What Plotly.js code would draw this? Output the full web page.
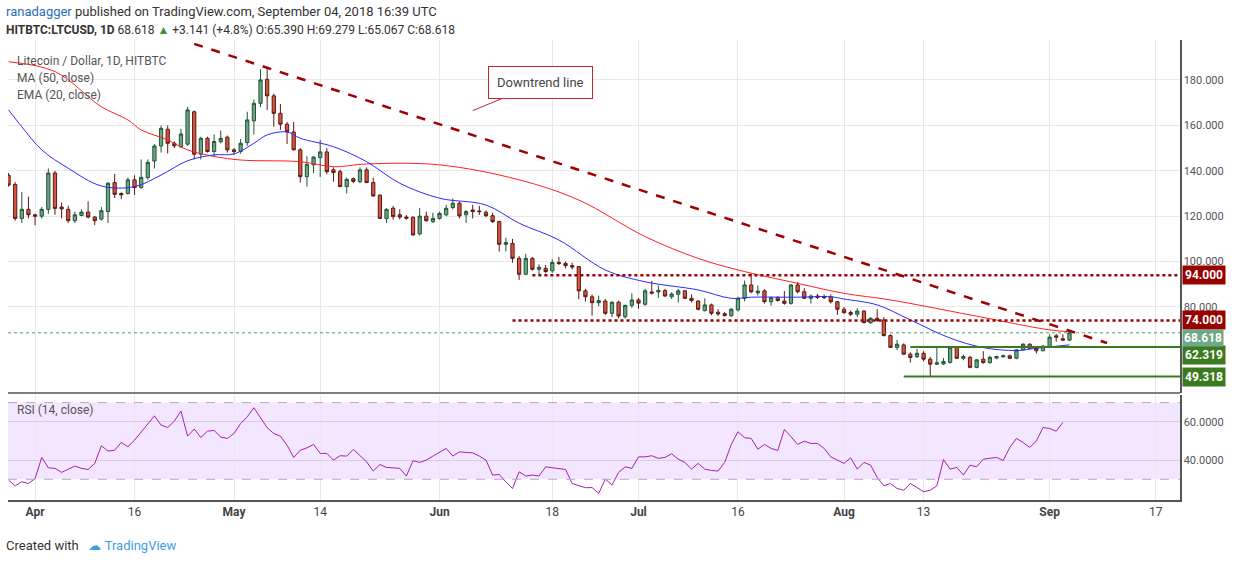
<!DOCTYPE html>
<html>
<head>
<meta charset="utf-8">
<script src="https://cdn.plot.ly/plotly-3.0.1.min.js"></script>
<style>
  body { margin: 0; background: #fff; }
  #chart { width: 1240px; height: 562px; }
</style>
</head>
<body>
<div id="chart"></div>
<script>
// daily candles, 2018-03-28 .. 2018-09-04
const startDate = '2018-03-28';
const open = [138,134,119,123, 120.6,120,123,139,124,123,118,120.3,121.8,119.6,118.7,122,134.8,130,130,136,132.6,137,144.3,150.9,158.3,152.1,150.6,151.7,166,147.3,154.3,148.5,152.8,154.8,
  149.2,148.5,152.4,162,169.7,180.3,173,165.3,160.5,157.1,149.2,137.4,142.6,145.8,148.3,140.4,139.6,133,136.5,135.2,140.4,134.8,129.3,119,123.5,120.6,119.6,119.5,112.2,120,117.6,
  119,120.6,123.8,125.7,120.6,122.7,122.3,121.7,120.2,117.6,107.6,108,101.4,94.4,101.4,96.6,97,95.9,99.6,99.2,98.2,97.8,87.1,84.5,81.9,82.6,77.2,82.1,75.7,80.7,
  83.1,81.2,86.6,86.6,87.2,84.5,85.6,87.1,83.8,82.6,78.4,80.9,77.7,77,76.2,78.7,83.8,89.7,86.2,87.1,82.3,84.1,82.6,81.6,89.7,86.7,83.8,84.8,84.6,84.5,82.3,
  79,77.6,76.8,78.2,73.1,75,74.3,67.4,62.2,63.3,59.2,58.1,59.6,57,54.8,54.9,55.6,62.2,57.4,57.8,53.4,57,55.5,57.5,58,58.5,57.4,61.1,63.6,61.8,60.7,
  62.5,67.3,66,65.39];
const high = [139,135,130.6,128.6, 121,124,141,140,126,124.6,122,123,126.5,120,124,135,138.6,130.5,137,138,145,145,151.8,159.9,160,153,158.5,168.2,166.5,155,155,156,157.7,155.5,
  150,154,166,171.4,184.7,185.8,174,169.4,161.5,161.5,150,146.4,146.5,153.6,150,141.5,140.5,137,137,141.5,141.5,137,129.5,123.5,124.5,123,120.5,120,123.6,122,121.5,
  122,125,127.8,126.5,122.7,125,124.5,122.5,121.5,118,110.5,110,102.5,103.4,102,98.8,98.5,101,102,100,99.5,98,88,85.5,85,83.5,82.5,82.8,81,86,
  84,88,91.5,89.5,88,86.5,88,87.5,85.5,83,83.8,81.5,79,77.8,79.5,84.5,91.6,94.8,89.5,87.8,84.5,84.8,87,90,91,88.3,85.5,85.8,85.5,85.5,82.5,
  80,78.5,79.5,78.5,75.5,79,75.5,68,65.5,64,60,61.5,60.5,58,62.5,57.5,62.5,62.5,59,58.5,57,60.5,58.5,58.5,59,59,61.5,64,64,62,63,
  68,68.2,68,69.279];
const low = [133,118,117,119, 116,119,121,120.6,119,117,117,120,119,116,118,117,128,127.5,129.5,129.4,132,136,141,148,147.6,150,150,151,145,145,148,146,152,148,
  147,147.5,151,156,168,166.8,159.4,158,151.8,149,134.8,133,139,137.3,138.5,135.2,133,130,134.5,134.5,134.5,128.5,119,117,118.5,118.5,118.5,111.5,111.5,117.5,117,
  118.5,120,123,119,117,119,120.5,119.5,117,104.4,104.5,99.5,91.9,94,96,94.5,95,95,98.5,97,96.5,83.4,82.4,76.2,80.3,76.5,75.5,75,74.8,79.5,
  79.2,80.5,85.5,84,84.5,83.5,82,83.5,82,78.5,78,76.3,76,75.8,75.5,78,82.5,86,85,81.5,80.5,82.5,81,81,86,83.5,81.5,83.5,83.5,81.5,76.5,
  77,76,75.5,72.8,72.5,73.5,67,62,61,59,55.5,57.5,56,49.3,54.5,54.5,55,57,56.5,53,53,55,55,57,57.8,57,57,60.8,61.5,59.5,60.5,
  62,64.7,65,65.067];
const close = [133.7,119,123,120.6, 120,123,139,123.4,123.2,118,120.6,121.8,119.6,118,122.4,134.5,129.6,129.4,136,132.6,137.1,143.7,150.9,158.7,152.1,151,156.2,166.8,147.3,154.3,148.5,152.9,154.3,149.2,
  148.5,152.1,162.4,169.7,180,173,165.3,160.5,157.2,149.2,137.4,142.8,146,148.3,139.6,139.2,133,136.2,135.3,140.4,134.8,128.9,119,123,119.8,119.6,119.1,111.7,120,118,119,
  121.2,123.5,125.7,120.1,122,122,122,120.2,117.6,107.6,108.4,101.4,94.4,101.4,96.6,97.5,95.6,99.6,99.2,98.2,97.6,87.1,84.5,81.9,82.8,77.2,82.1,76,80.7,83.1,
  81.7,87.1,86.1,87.3,84.8,85.7,87.1,83.8,82.8,79,80.9,77.2,76.9,76.2,79,83.8,89.7,86.7,87,82.3,84.1,82.8,81.6,89.7,86.7,83.8,84.8,84.2,84.1,82.3,79,
  77.5,76.8,78.2,73.1,75,74,67.4,62.2,63.6,59.2,57.7,59.6,57,54.8,55.4,56,62.2,57.4,58.2,53.4,56.7,55.5,57.8,58.2,58.5,57.4,61.1,63.6,61.8,60.7,62.8,
  66.7,66.7,65.39,68.618];

// indicator lines
const maDates = ['2018-03-28','2018-04-04','2018-04-11','2018-04-15','2018-04-17','2018-04-21','2018-04-24','2018-05-01','2018-05-11','2018-05-16','2018-05-21','2018-06-01',
  '2018-06-13','2018-06-22','2018-07-02','2018-07-10','2018-07-16','2018-07-25','2018-08-01','2018-08-08','2018-08-20','2018-09-01','2018-09-04'];
const ma50 = [188,183.7,168.2,162.4,158,153.6,149.2,145,144,141.8,143,142.6,136,127.1,111,101.4,96.3,90.4,86,83.1,76.5,69.9,69.1];
const emaDates = ['2018-03-28','2018-03-30','2018-04-02','2018-04-06','2018-04-11','2018-04-16','2018-04-20','2018-04-24','2018-04-28','2018-05-01','2018-05-04','2018-05-06',
  '2018-05-09','2018-05-11','2018-05-16','2018-05-21','2018-05-26','2018-06-01','2018-06-08','2018-06-13','2018-06-19','2018-06-26','2018-07-02','2018-07-10','2018-07-15',
  '2018-07-18','2018-07-25','2018-07-30','2018-08-01','2018-08-06','2018-08-11','2018-08-17','2018-08-22','2018-08-27','2018-08-30','2018-09-04'];
const ema20 = [166.8,159.4,149.2,141.1,133.3,133,138.1,144.4,147,147.4,152.1,155.8,157.1,154.3,150.6,144,134.5,127.9,124.9,116.9,109.5,96.3,91.1,87.5,83.8,
  84.3,84.3,84.5,83.5,80.9,74.3,66.3,62.1,60.8,61.8,63.3];
const rsi = [29.6,26.6,28.7,27.8,30.4,41.4,36,35.7,33.6,35.3,36.9,35.7,35.1,38.3,47.5,44.7,45.2,49.2,47,50.4,54.8,59.1,63.1,58.3,57,60.3,65.6,52.5,56.2,51.8,55.1,55.5,52,
  51.3,53.9,59.1,62.6,67.3,62.1,56.9,53.9,52.5,47.8,41.4,45.2,46.4,48.2,43.5,43.5,40,42.3,42.1,45.6,42.6,39.1,34.3,37.7,36.2,36,35.7,31.7,39.7,38.8,40,
  42.1,44,46.1,42.1,44.3,44,43.8,42.1,40,32.2,32.5,28.7,25.2,33.9,31.7,32.2,31.7,36.5,36,35.7,35.1,27.8,26.6,25.6,25.7,22.6,30.1,27,33.6,36.5,
  35.7,41.7,41.7,42.3,40.9,41.4,43.3,40.5,38.8,35.3,38.3,35.3,34.6,34.3,38.8,48.2,54.8,51.7,51.3,45.7,48.2,46.1,45,56,52.2,48.2,49.9,48.7,48.7,46.1,41.7,
  40,38.3,41.2,35.3,38.8,37.4,31,26.6,27.8,25.2,24.3,27.8,25.7,23.5,24.3,26.6,40.3,35.3,36.2,32.2,37.4,36.5,40.5,40.9,41.4,39.8,46.6,51.3,49.2,46.6,49.9,
  57,56.5,55.1,59.7];

const levels = [
  { value: 94, from: '2018-06-15', color: '#990000', dash: 'dot', label: '94.000', shift: 0 },
  { value: 74, from: '2018-06-12', color: '#990000', dash: 'dot', label: '74.000', shift: 1 },
  { value: 62.319, from: '2018-08-11', color: '#3b7a1e', dash: 'solid', label: '62.319', shift: -8 },
  { value: 49.318, from: '2018-08-10', color: '#3b7a1e', dash: 'solid', label: '49.318', shift: 0 }
];
const trendline = { x0: '2018-04-25', y0: 195.9, x1: '2018-09-09 16:00', y1: 64.1 };
const lastPrice = 68.618;

const tickDates = ['2018-04-01','2018-04-16','2018-05-01','2018-05-14','2018-06-01','2018-06-18','2018-07-01','2018-07-16','2018-08-01','2018-08-13','2018-09-01','2018-09-17'];
const tickText = ['<b>Apr</b>','16','<b>May</b>','14','<b>Jun</b>','18','<b>Jul</b>','16','<b>Aug</b>','13','<b>Sep</b>','17'];

const dates = [];
const d0 = new Date(startDate + 'T00:00:00Z');
for (let i = 0; i < close.length; i++) {
  dates.push(new Date(d0.getTime() + i * 86400000).toISOString().slice(0, 10));
}

const traces = [
  {
    type: 'candlestick', x: dates, open: open, high: high, low: low, close: close,
    increasing: { line: { color: '#225437', width: 1 }, fillcolor: '#6ba583' },
    decreasing: { line: { color: '#5b1a13', width: 1 }, fillcolor: '#d75442' },
    whiskerwidth: 0, hoverinfo: 'skip', xaxis: 'x', yaxis: 'y'
  },
  { type: 'scatter', mode: 'lines', x: maDates, y: ma50, line: { color: '#ff2020', width: 1, shape: 'spline' }, xaxis: 'x', yaxis: 'y' },
  { type: 'scatter', mode: 'lines', x: emaDates, y: ema20, line: { color: '#2a2aff', width: 1, shape: 'spline' }, xaxis: 'x', yaxis: 'y' },
  { type: 'scatter', mode: 'lines', x: dates, y: rsi, line: { color: '#a321b5', width: 1 }, xaxis: 'x', yaxis: 'y2' }
];

const shapes = [
  { type: 'rect', xref: 'paper', yref: 'y2', x0: 0, x1: 1, y0: 30, y1: 70, fillcolor: '#f3e6ff', line: { width: 0 }, layer: 'below' },
  { type: 'line', xref: 'paper', yref: 'y2', x0: 0, x1: 1, y0: 70, y1: 70, line: { color: '#b9a6c4', width: 1, dash: 'dash' } },
  { type: 'line', xref: 'paper', yref: 'y2', x0: 0, x1: 1, y0: 30, y1: 30, line: { color: '#b9a6c4', width: 1, dash: 'dash' } },
  { type: 'line', xref: 'paper', yref: 'y', x0: 0, x1: 1, y0: lastPrice, y1: lastPrice, line: { color: '#4f9f6f', width: 1, dash: 'dot' } },
  { type: 'line', xref: 'x', yref: 'y', x0: trendline.x0, y0: trendline.y0, x1: trendline.x1, y1: trendline.y1,
    line: { color: '#a00000', width: 2.5, dash: 'dash' } },
  { type: 'line', xref: 'paper', yref: 'paper', x0: 0, x1: 1, y0: 0.2326, y1: 0.2326, line: { color: '#555', width: 1.5 } }
];
levels.forEach(l => {
  shapes.push({ type: 'line', xref: 'x', yref: 'y', x0: l.from, x1: '2018-09-21', y0: l.value, y1: l.value,
    line: { color: l.color, width: l.dash === 'dot' ? 2.5 : 2, dash: l.dash } });
});

const font = 'Roboto, "Open Sans", sans-serif';
const annotations = [
  { xref: 'paper', yref: 'paper', x: 0.006, y: 0.955, xanchor: 'left', yanchor: 'middle', showarrow: false,
    text: 'Litecoin / Dollar, 1D, HITBTC', font: { size: 12, color: '#555' } },
  { xref: 'paper', yref: 'paper', x: 0.006, y: 0.918, xanchor: 'left', yanchor: 'middle', showarrow: false,
    text: 'MA (50, close)', font: { size: 12, color: '#555' } },
  { xref: 'paper', yref: 'paper', x: 0.006, y: 0.881, xanchor: 'left', yanchor: 'middle', showarrow: false,
    text: 'EMA (20, close)', font: { size: 12, color: '#555' } },
  { xref: 'paper', yref: 'paper', x: 0.006, y: 0.195, xanchor: 'left', yanchor: 'middle', showarrow: false,
    text: 'RSI (14, close)', font: { size: 12, color: '#555' } },
  { xref: 'x', yref: 'y', x: '2018-06-06', y: 166.5, showarrow: true, ax: 68, ay: -28,
    arrowhead: 0, arrowcolor: '#c2262e', arrowwidth: 1, standoff: 0,
    text: 'Downtrend line', font: { size: 13, color: '#444' }, bordercolor: '#c2262e', borderwidth: 1, borderpad: 8, bgcolor: '#fff' },
  // header and footer
  { xref: 'paper', yref: 'paper', x: -0.003, y: 1.061, xanchor: 'left', yanchor: 'middle', showarrow: false,
    text: '<span style="color:#2a6ebb">ranadagger</span> published on TradingView.com, September 04, 2018 16:39 UTC', font: { size: 13, color: '#333' } },
  { xref: 'paper', yref: 'paper', x: -0.003, y: 1.022, xanchor: 'left', yanchor: 'middle', showarrow: false,
    text: '<b>HITBTC:LTCUSD, 1D</b> 68.618 <span style="color:#3b8f3b">▲</span> +3.141 (+4.8%) O:65.390 H:69.279 L:65.067 C:68.618', font: { size: 12, color: '#333' } },
  { xref: 'paper', yref: 'paper', x: -0.003, y: -0.098, xanchor: 'left', yanchor: 'middle', showarrow: false,
    text: 'Created with <span style="color:#3d9ee0">&nbsp;&nbsp;☁&nbsp;TradingView</span>', font: { size: 13, color: '#333' } }
];
levels.forEach(l => {
  annotations.push({ xref: 'paper', yref: 'y', x: 1.002, y: l.value, yshift: l.shift, xanchor: 'left', showarrow: false,
    text: '<b>' + l.label + '</b>', font: { size: 12, color: '#fff' }, bgcolor: l.color, borderpad: 2 });
});
annotations.push({ xref: 'paper', yref: 'y', x: 1.002, y: lastPrice, yshift: -5, xanchor: 'left', showarrow: false,
  text: '<b>68.618</b>', font: { size: 12, color: '#fff' }, bgcolor: '#6fa887', borderpad: 1 });

const layout = {
  width: 1240, height: 562,
  margin: { l: 8, r: 60, t: 40, b: 62 },
  paper_bgcolor: '#fff', plot_bgcolor: '#fff',
  font: { family: font, size: 12, color: '#555' },
  showlegend: false, dragmode: false,
  xaxis: {
    type: 'date', range: ['2018-03-27 22:00', '2018-09-20 16:00'], anchor: 'y2',
    tickvals: tickDates, ticktext: tickText, tickfont: { size: 12, color: '#444' },
    showgrid: true, gridcolor: '#e8e8e8', showline: true, linecolor: '#555', linewidth: 1.5,
    mirror: false, ticks: '', rangeslider: { visible: false }
  },
  yaxis: {
    domain: [0.2326, 1], range: [42.1, 197.6], side: 'right', tickformat: '.3f',
    tickvals: [80, 100, 120, 140, 160, 180], showgrid: true, gridcolor: '#e8e8e8',
    showline: true, linecolor: '#555', linewidth: 1.5, ticks: '', tickfont: { size: 11, color: '#555' }, zeroline: false
  },
  yaxis2: {
    domain: [0, 0.228], range: [19.2, 73.9], side: 'right', tickformat: '.4f',
    tickvals: [40, 60], showgrid: true, gridcolor: '#dccbe6',
    showline: true, linecolor: '#555', linewidth: 1.5, ticks: '', tickfont: { size: 11, color: '#555' }, zeroline: false
  },
  shapes: shapes,
  annotations: annotations
};

Plotly.newPlot('chart', traces, layout, { displayModeBar: false, staticPlot: true });
</script>
</body>
</html>
